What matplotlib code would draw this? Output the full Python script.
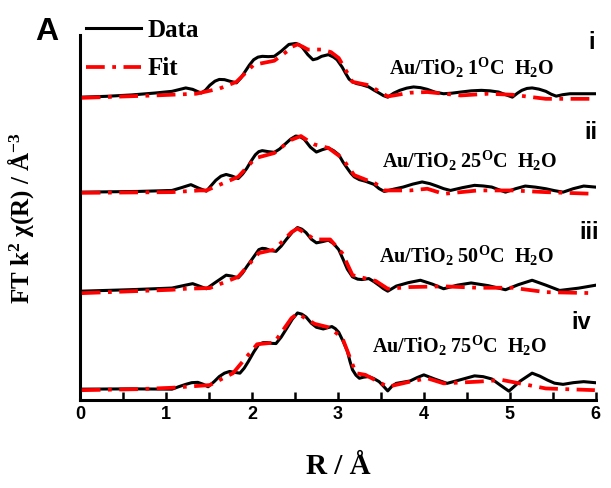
import matplotlib
matplotlib.use("Agg")
import matplotlib.pyplot as plt
from matplotlib.ticker import MultipleLocator

plt.rcParams['mathtext.default'] = 'regular'

# R values (Angstrom) and heights above each baseline
r_data_i = [0.02, 0.3, 0.6, 0.87, 1.07, 1.15, 1.23, 1.31, 1.37, 1.41, 1.46, 1.51, 1.57, 1.62, 1.68,
            1.74, 1.82, 1.87, 1.92, 1.97, 2.02, 2.07, 2.12, 2.19, 2.26, 2.34, 2.43, 2.51, 2.55, 2.59,
            2.65, 2.71, 2.76, 2.81, 2.89, 2.95, 2.99, 3.05, 3.09, 3.13, 3.17, 3.22, 3.27, 3.36, 3.42,
            3.48, 3.53, 3.58, 3.65, 3.72, 3.80, 3.88, 3.96, 4.04, 4.13, 4.23, 4.33, 4.43, 4.55, 4.67,
            4.77, 4.87, 4.95, 5.03, 5.09, 5.14, 5.20, 5.26, 5.34, 5.42, 5.48, 5.54, 5.62, 5.70, 5.99]
h_data_i = [0, 0.8, 2.2, 4.1, 5.8, 7.5, 9.2, 7.8, 5.5, 4.1, 7, 11.9, 16, 17.7, 17.5,
            16, 14.3, 19, 25.5, 32, 37.4, 40, 40.8, 40.5, 40.8, 45.9, 52.7, 53.7, 52.5, 49.3,
            42.5, 37.4, 38.5, 40.8, 42.5, 40, 37.4, 30, 23.8, 18, 15.3, 13.5, 12.6, 10.2, 7,
            4.1, 1.5, 0, 4, 6.8, 9, 10.2, 9.5, 7.8, 5, 3.4, 4, 5.1, 6.3, 6.8,
            6.3, 5.1, 2.5, 0, 4, 6.8, 8.7, 9.2, 8, 5.8, 3, 1, 2.5, 3.4, 3.4]
r_fit_i = [0.02, 0.87, 1.35, 1.62, 1.82, 2.02, 2.26, 2.41, 2.47, 2.53, 2.59, 2.65, 2.81, 2.92,
           3.01, 3.17, 3.36, 3.58, 3.84, 4.04, 4.43, 4.75, 5.03, 5.42, 5.99]
h_fit_i = [-0.7, 1.7, 3.4, 8.5, 15.3, 32.3, 36.4, 45.9, 50.5, 52.7, 50.5, 47.6, 47.6, 45,
           39.1, 15.3, 11.9, 0.7, 4.4, 5.1, 1.7, 3.4, 2.4, -1.7, -1.7]

r_data_ii = [0.02, 0.67, 1.07, 1.18, 1.29, 1.38, 1.47, 1.52, 1.58, 1.64, 1.70, 1.77, 1.84, 1.89,
             1.94, 1.99, 2.04, 2.08, 2.12, 2.19, 2.26, 2.32, 2.38, 2.45, 2.51, 2.56, 2.61, 2.68,
             2.75, 2.82, 2.89, 2.95, 3.01, 3.06, 3.11, 3.15, 3.19, 3.25, 3.32, 3.42, 3.48, 3.54,
             3.65, 3.76, 3.87, 3.98, 4.07, 4.15, 4.23, 4.31, 4.45, 4.59, 4.69, 4.79, 4.87, 4.95,
             5.07, 5.18, 5.30, 5.42, 5.52, 5.62, 5.74, 5.86, 5.99]
h_data_ii = [0, 0.7, 1.7, 4.5, 7.5, 4, 1, 6, 11.9, 16, 17.7, 16, 13.6, 18,
             23.8, 31, 37.4, 40.5, 41.5, 40.5, 39.8, 43, 47.6, 53, 56.1, 55.5, 52.7, 45,
             40.1, 42.5, 44.2, 41.5, 37.4, 30, 23.8, 19, 15.3, 12.5, 10.9, 7.8, 3.5, 0.7,
             3, 5.1, 8, 10.2, 8.5, 6.1, 3.5, 1.7, 4.5, 6.8, 6.2, 5.1, 2.5, 0,
             3.5, 6.1, 5, 3.4, 1.5, 0, 3.5, 6.1, 5.1]
r_fit_ii = [0.02, 1.07, 1.39, 1.47, 1.84, 2.04, 2.26, 2.45, 2.57, 2.66, 2.73, 2.89, 3.05, 3.19,
            3.44, 3.54, 3.84, 4.04, 4.23, 4.63, 5.03, 5.42, 5.99]
h_fit_ii = [-0.7, 0, 1.7, 1.7, 15.3, 34, 39.1, 52, 56.1, 51, 47.6, 44.2, 34, 17,
            8.5, 1.7, 1.7, 3.4, -1.7, 1.7, 1.7, 0, -1.7]

r_data_iii = [0.02, 0.6, 1.07, 1.2, 1.31, 1.39, 1.47, 1.58, 1.70, 1.77, 1.84, 1.89, 1.94, 2.01,
              2.08, 2.12, 2.16, 2.22, 2.28, 2.34, 2.40, 2.47, 2.53, 2.58, 2.63, 2.69, 2.75, 2.82,
              2.89, 2.95, 3.01, 3.06, 3.11, 3.17, 3.23, 3.28, 3.36, 3.42, 3.48, 3.53, 3.58, 3.68,
              3.82, 3.96, 4.10, 4.23, 4.39, 4.55, 4.75, 4.95, 5.10, 5.26, 5.42, 5.58, 5.80, 5.99]
h_data_iii = [0, 1.5, 3.1, 5.5, 7.5, 5, 2.4, 9, 16, 15, 13.3, 18, 24.5, 33,
              41.5, 42.8, 42.5, 40.5, 39.8, 45, 51.7, 59, 63.6, 62, 58.5, 52, 48.3, 49.5,
              51, 47.5, 41.5, 32, 22, 14.3, 12, 11.6, 12.6, 9.5, 5.8, 2.5, 0, 5.1,
              8.5, 10.9, 7, 2.4, 6, 8.2, 5.5, 1.4, 6.5, 10.9, 6, 0.7, 3, 5.8]
r_fit_iii = [0.02, 1.07, 1.23, 1.51, 1.84, 2.08, 2.26, 2.46, 2.53, 2.60, 2.73, 2.91, 3.05, 3.17,
             3.44, 3.58, 3.84, 4.23, 4.63, 5.03, 5.42, 5.99]
h_fit_iii = [-2, 1.4, 2.4, 3.1, 14.3, 38.1, 41.5, 59, 62.6, 59, 51.7, 51.7, 38.1, 16,
             10.2, 2.4, 4.1, 4.8, 3.4, 3.4, -1, -2]

r_data_iv = [0.02, 0.6, 1.07, 1.15, 1.23, 1.30, 1.37, 1.43, 1.49, 1.56, 1.62, 1.68, 1.74, 1.80,
             1.86, 1.91, 1.96, 2.02, 2.08, 2.13, 2.18, 2.23, 2.28, 2.34, 2.40, 2.47, 2.53, 2.58,
             2.63, 2.69, 2.75, 2.83, 2.93, 2.97, 3.01, 3.06, 3.11, 3.14, 3.17, 3.21, 3.25, 3.30,
             3.36, 3.42, 3.48, 3.53, 3.58, 3.63, 3.68, 3.76, 3.84, 3.92, 4.00, 4.13, 4.27, 4.43,
             4.59, 4.69, 4.79, 4.89, 4.99, 5.12, 5.26, 5.35, 5.44, 5.52, 5.62, 5.74, 5.86, 5.99]
h_data_iv = [0, 0.3, 0, 2.5, 4.8, 6.5, 6.8, 5, 2.4, 7.5, 12.6, 16, 17.7, 16.8,
             16, 21, 27.9, 37, 44.9, 46.5, 46.6, 45.8, 45.6, 52, 60.2, 70, 76.2, 75,
             72.1, 66, 61.9, 60.2, 62.6, 60.5, 56.8, 48, 38.1, 28, 19.4, 14, 10.9, 12,
             12.6, 10.5, 7.5, 3, -1.7, 3, 5.8, 7, 8.2, 11.5, 14.3, 10, 5.8, 9.5,
             13.3, 12.5, 10.2, 4, -2, 8, 16, 13, 9, 6, 4.8, 6.5, 7.5, 6.5]
r_fit_iv = [0.02, 0.67, 1.07, 1.23, 1.51, 1.78, 2.06, 2.26, 2.46, 2.53, 2.60, 2.73, 2.89, 3.05,
            3.21, 3.32, 3.58, 3.84, 4.04, 4.23, 4.63, 4.91, 5.42, 5.99]
h_fit_iv = [-1, 0, 1.4, 2.4, 4.1, 16, 44.9, 46.6, 71, 75.5, 72, 65.3, 61.9, 51.7,
            16, 14.3, 2.4, 7.5, 10.9, 5.8, 7.5, 9.2, 0.7, -1]

labels = [r'Au/TiO$_2$ 1$^O$C  H$_2$O', r'Au/TiO$_2$ 25$^O$C  H$_2$O',
          r'Au/TiO$_2$ 50$^O$C  H$_2$O', r'Au/TiO$_2$ 75$^O$C  H$_2$O']
numerals = ['i', 'ii', 'iii', 'iv']

data_r = [r_data_i, r_data_ii, r_data_iii, r_data_iv]
data_h = [h_data_i, h_data_ii, h_data_iii, h_data_iv]
fit_r = [r_fit_i, r_fit_ii, r_fit_iii, r_fit_iv]
fit_h = [h_fit_i, h_fit_ii, h_fit_iii, h_fit_iv]

offsets = [303, 208, 109, 11]   # vertical stacking of the spectra
label_x = [5.52, 5.55, 5.52, 5.43]
label_y = [332, 239, 144, 54]
num_pos = [(5.91, 358), (5.87, 268), (5.81, 168), (5.72, 78)]

fig = plt.figure(figsize=(6.11, 4.88), dpi=100)
ax = fig.add_axes([0.131, 0.18, 0.844, 0.748])

serif = 'Liberation Serif'
sans = 'Liberation Sans'

for k in range(4):
    ax.plot(data_r[k], [v + offsets[k] for v in data_h[k]], color='black', lw=2.2,
            solid_joinstyle='round', label='Data' if k == 0 else None, zorder=2)
    ax.plot(fit_r[k], [v + offsets[k] for v in fit_h[k]], color='red', lw=2.7,
            dashes=(5, 2, 1, 2), label='Fit' if k == 0 else None, zorder=3)
    ax.text(label_x[k], label_y[k], labels[k], family=serif, weight='bold', fontsize=14.5,
            ha='right', va='center')
    ax.text(num_pos[k][0], num_pos[k][1], numerals[k], family=sans, weight='bold',
            fontsize=17, ha='left', va='center')

ax.set_xlim(0, 6)
ax.set_ylim(0, 365)
ax.xaxis.set_major_locator(MultipleLocator(1))
ax.xaxis.set_minor_locator(MultipleLocator(0.5))
ax.tick_params(axis='x', which='both', direction='in', length=6, width=1.8, pad=4)
ax.set_yticks([])
for lab in ax.get_xticklabels():
    lab.set_family(sans)
    lab.set_weight('bold')
    lab.set_fontsize(13)
for s in ['top', 'right']:
    ax.spines[s].set_visible(False)
for s in ['left', 'bottom']:
    ax.spines[s].set_linewidth(2.2)

ax.set_xlabel('R / Å', family=serif, weight='bold', fontsize=21)
ax.xaxis.set_label_coords(0.5, -0.145)
ax.set_ylabel(r'FT k$^2$ $\chi$(R) / Å$^{-3}$', family=serif, weight='bold', fontsize=18)
ax.yaxis.set_label_coords(-0.085, 0.5)

leg = fig.legend(loc='upper left', bbox_to_anchor=(0.125, 0.982), frameon=False,
                 prop={'family': serif, 'weight': 'bold', 'size': 18},
                 handlelength=2.2, handletextpad=0.25, labelspacing=0.62, borderaxespad=0.0)

fig.text(0.058, 0.935, 'A', family=sans, weight='bold', fontsize=23, ha='left', va='center')

fig.savefig('out.png', dpi=100)
